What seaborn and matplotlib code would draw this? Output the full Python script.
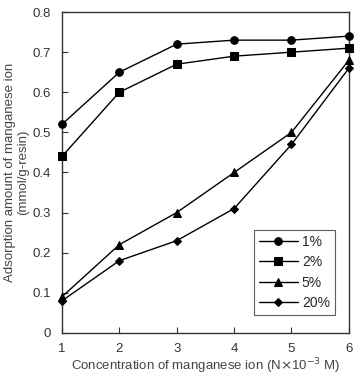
import matplotlib
matplotlib.use("Agg")
import matplotlib.pyplot as plt
import seaborn as sns
import pandas as pd

# -------------------------
# Data
# -------------------------
conc = [1, 2, 3, 4, 5, 6]
series_names = ["1%", "2%", "5%", "20%"]
ads_1 = [0.52, 0.65, 0.72, 0.73, 0.73, 0.74]
ads_2 = [0.44, 0.60, 0.67, 0.69, 0.70, 0.71]
ads_5 = [0.09, 0.22, 0.30, 0.40, 0.50, 0.68]
ads_20 = [0.08, 0.18, 0.23, 0.31, 0.47, 0.66]

df = pd.DataFrame({
    "conc": conc * 4,
    "ads": ads_1 + ads_2 + ads_5 + ads_20,
    "series": [s for s in series_names for _ in conc],
})

sns.set_style("ticks")
plt.rcParams["font.family"] = ["Liberation Sans", "DejaVu Sans"]

fig = plt.figure(figsize=(3.56, 3.77), dpi=100)
ax = fig.add_axes([0.174, 0.117, 0.806, 0.851])

markers = {"1%": "o", "2%": "s", "5%": "^", "20%": "D"}
sizes = {"1%": 5.5, "2%": 5.5, "5%": 6, "20%": 4}
for name in series_names:
    sub = df[df["series"] == name]
    sns.lineplot(data=sub, x="conc", y="ads", ax=ax, color="black", lw=1.0,
                 marker=markers[name], markersize=sizes[name], markeredgecolor="black",
                 label=name, clip_on=False, zorder=3)

ax.set_xlim(1, 6)
ax.set_ylim(0, 0.8)
ax.set_xticks(conc)
ax.set_yticks([0, 0.1, 0.2, 0.3, 0.4, 0.5, 0.6, 0.7, 0.8])
ax.set_yticklabels(["0", "0.1", "0.2", "0.3", "0.4", "0.5", "0.6", "0.7", "0.8"])
ax.tick_params(direction="in", length=4, width=0.8, labelsize=9.5, colors="#333333")
ax.tick_params(axis="y", pad=8)
ax.tick_params(axis="x", pad=7)
for sp in ax.spines.values():
    sp.set_linewidth(1.0)
    sp.set_color("#333333")

ax.set_xlabel("Concentration of manganese ion (N$\\times$10$^{-3}$ M)", fontsize=9.5,
              color="#444444", labelpad=1)
ax.set_ylabel("Adsorption amount of manganese ion\n(mmol/g-resin)", fontsize=9.5,
              color="#444444", labelpad=2)

leg = ax.legend(loc="lower right", bbox_to_anchor=(0.975, 0.035), frameon=True,
                fancybox=False, edgecolor="#333333", fontsize=10,
                handlelength=2.8, handletextpad=0.3, borderpad=0.35, labelspacing=0.45)
leg.get_frame().set_linewidth(0.8)

fig.savefig("out.png", dpi=100)
